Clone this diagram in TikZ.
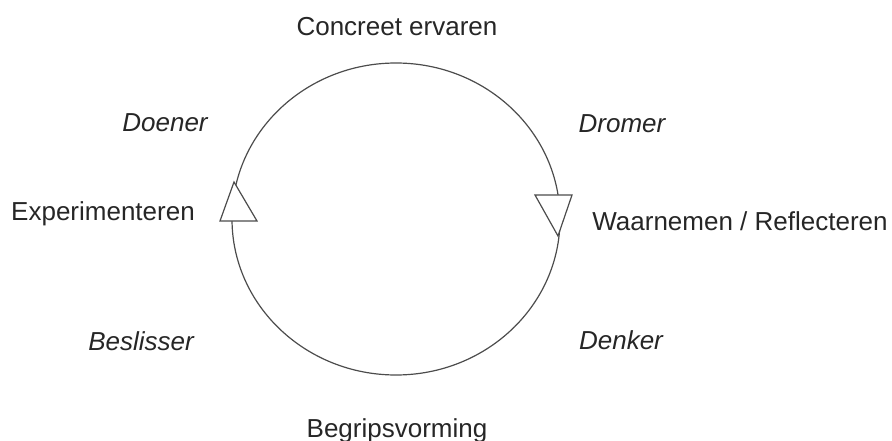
\documentclass[tikz,border=0pt]{standalone}
\usepackage{fontspec}
\setmainfont{Liberation Sans}
\begin{document}
\begin{tikzpicture}[x=1pt, y=-1pt,
    cycle/.style={draw=black!70, line width=1.2pt},
    label/.style={anchor=base, inner sep=0pt, text=black!85,
        font=\fontsize{26}{31}\selectfont},
    role/.style={label, font=\fontsize{26}{31}\selectfont\itshape}]
    \useasboundingbox (0, 0) rectangle (892, 441);
    \draw[cycle] (396, 219) ellipse[x radius=164, y radius=156];
    \filldraw[cycle, fill=white]
        (234, 182) -- (257, 221) -- (220, 221) -- cycle
        (535, 195) -- (572, 195) -- (558, 236) -- cycle;
    \path
        \foreach \p/\n/\t in {
            {397, 36}/concreet/{Concreet ervaren},
            {740, 230}/waarnemen/{Waarnemen / Reflecteren},
            {397, 437}/begrip/{Begripsvorming},
            {103, 220}/experiment/{Experimenteren}
        } {
            (\p) node[label] (\n) {\t}
        };
    \path
        \foreach \p/\n/\t in {
            {165, 132}/doener/Doener,
            {622, 133}/dromer/Dromer,
            {621, 349}/denker/Denker,
            {141, 350}/beslisser/Beslisser
        } {
            (\p) node[role] (\n) {\t}
        };
\end{tikzpicture}
\end{document}
